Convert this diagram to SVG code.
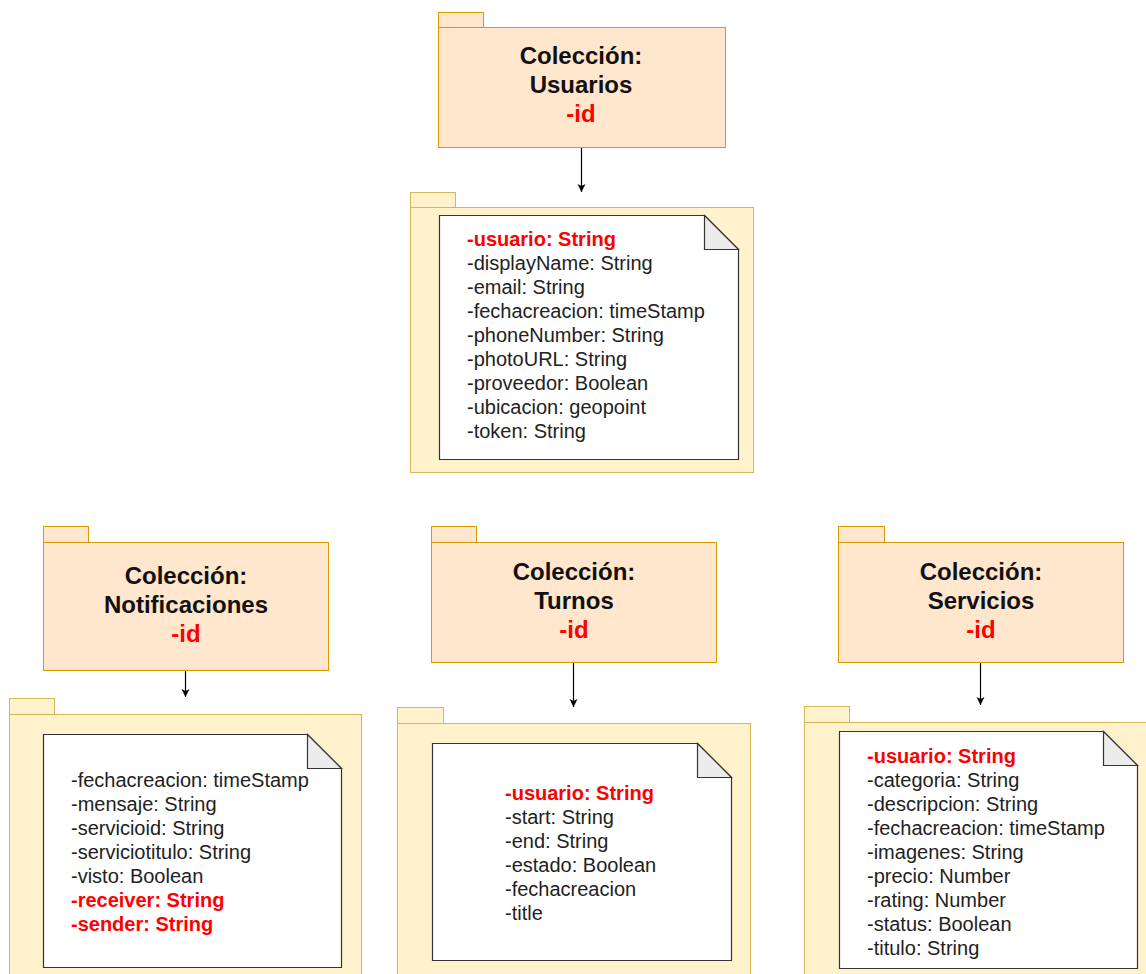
<svg xmlns="http://www.w3.org/2000/svg" width="1146" height="974" viewBox="0 0 1146 974">
<defs>
<marker id="arr" markerWidth="10" markerHeight="10" refX="8" refY="5" orient="auto" markerUnits="userSpaceOnUse">
<path d="M0,1 L8,5 L0,9 L2,5 Z" fill="#000"/>
</marker>
<style>
.pkgA{fill:#ffe6cc;stroke:#d79b00;stroke-width:1}
.pkgB{fill:#fff2cc;stroke:#d6b656;stroke-width:1}
.note{fill:#fff;stroke:#333;stroke-width:1.2}
.fold{fill:#ececec;stroke:#333;stroke-width:1.2}
.title{font-family:"Liberation Sans",Arial,sans-serif;font-size:24px;font-weight:bold;fill:#111;text-anchor:middle}
.idt{fill:#ff0000}
.attr{font-family:"Liberation Sans",Arial,sans-serif;font-size:20px;fill:#222}
.key{fill:#ff0000;font-weight:bold}
.conn{stroke:#000;stroke-width:1.2;fill:none}
</style>
</defs>
<rect width="1146" height="974" fill="#fff"/>

<g id="usuarios">
<rect class="pkgA" x="438.5" y="12.5" width="45" height="15"/>
<rect class="pkgA" x="438.5" y="27.5" width="287" height="120"/>
<text class="title" x="581" y="64">Colección:</text>
<text class="title" x="581" y="93">Usuarios</text>
<text class="title idt" x="581" y="122">-id</text>
</g>

<g id="usuarios-attrs">
<rect class="pkgB" x="410.5" y="192.5" width="45" height="15"/>
<rect class="pkgB" x="410.5" y="207.5" width="343" height="265"/>
<path class="note" d="M439.5,215.5 H704.5 L738.5,249.5 V459.5 H439.5 Z"/>
<path class="fold" d="M704.5,215.5 V249.5 H738.5 Z"/>
<text class="attr" x="467" y="246">
<tspan class="key" x="467">-usuario: String</tspan>
<tspan x="467" dy="24">-displayName: String</tspan>
<tspan x="467" dy="24">-email: String</tspan>
<tspan x="467" dy="24">-fechacreacion: timeStamp</tspan>
<tspan x="467" dy="24">-phoneNumber: String</tspan>
<tspan x="467" dy="24">-photoURL: String</tspan>
<tspan x="467" dy="24">-proveedor: Boolean</tspan>
<tspan x="467" dy="24">-ubicacion: geopoint</tspan>
<tspan x="467" dy="24">-token: String</tspan>
</text>
</g>

<g id="notificaciones">
<rect class="pkgA" x="43.5" y="526.5" width="45" height="16"/>
<rect class="pkgA" x="43.5" y="542.5" width="285" height="128"/>
<text class="title" x="186" y="584">Colección:</text>
<text class="title" x="186" y="613">Notificaciones</text>
<text class="title idt" x="186" y="642">-id</text>
</g>

<g id="notificaciones-attrs">
<rect class="pkgB" x="9.5" y="698.5" width="45" height="16"/>
<rect class="pkgB" x="9.5" y="714.5" width="352" height="270"/>
<path class="note" d="M43.5,734.5 H307.5 L341.5,768.5 V967.5 H43.5 Z"/>
<path class="fold" d="M307.5,734.5 V768.5 H341.5 Z"/>
<text class="attr" x="71" y="787">
<tspan x="71">-fechacreacion: timeStamp</tspan>
<tspan x="71" dy="24">-mensaje: String</tspan>
<tspan x="71" dy="24">-servicioid: String</tspan>
<tspan x="71" dy="24">-serviciotitulo: String</tspan>
<tspan x="71" dy="24">-visto: Boolean</tspan>
<tspan class="key" x="71" dy="24">-receiver: String</tspan>
<tspan class="key" x="71" dy="24">-sender: String</tspan>
</text>
</g>

<g id="turnos">
<rect class="pkgA" x="431.5" y="526.5" width="45" height="16"/>
<rect class="pkgA" x="431.5" y="542.5" width="285" height="120"/>
<text class="title" x="574" y="580">Colección:</text>
<text class="title" x="574" y="609">Turnos</text>
<text class="title idt" x="574" y="638">-id</text>
</g>

<g id="turnos-attrs">
<rect class="pkgB" x="397.5" y="707.5" width="46" height="16"/>
<rect class="pkgB" x="397.5" y="723.5" width="353" height="262"/>
<path class="note" d="M432.5,743.5 H697.5 L731.5,777.5 V960.5 H432.5 Z"/>
<path class="fold" d="M697.5,743.5 V777.5 H731.5 Z"/>
<text class="attr" x="505" y="800">
<tspan class="key" x="505">-usuario: String</tspan>
<tspan x="505" dy="24">-start: String</tspan>
<tspan x="505" dy="24">-end: String</tspan>
<tspan x="505" dy="24">-estado: Boolean</tspan>
<tspan x="505" dy="24">-fechacreacion</tspan>
<tspan x="505" dy="24">-title</tspan>
</text>
</g>

<g id="servicios">
<rect class="pkgA" x="838.5" y="526.5" width="46" height="16"/>
<rect class="pkgA" x="838.5" y="542.5" width="285" height="120"/>
<text class="title" x="981" y="580">Colección:</text>
<text class="title" x="981" y="609">Servicios</text>
<text class="title idt" x="981" y="638">-id</text>
</g>

<g id="servicios-attrs">
<rect class="pkgB" x="804.5" y="706.5" width="45" height="16"/>
<rect class="pkgB" x="804.5" y="722.5" width="360" height="262"/>
<path class="note" d="M839.5,731.5 H1103.5 L1137.5,765.5 V968.5 H839.5 Z"/>
<path class="fold" d="M1103.5,731.5 V765.5 H1137.5 Z"/>
<text class="attr" x="867" y="763">
<tspan class="key" x="867">-usuario: String</tspan>
<tspan x="867" dy="24">-categoria: String</tspan>
<tspan x="867" dy="24">-descripcion: String</tspan>
<tspan x="867" dy="24">-fechacreacion: timeStamp</tspan>
<tspan x="867" dy="24">-imagenes: String</tspan>
<tspan x="867" dy="24">-precio: Number</tspan>
<tspan x="867" dy="24">-rating: Number</tspan>
<tspan x="867" dy="24">-status: Boolean</tspan>
<tspan x="867" dy="24">-titulo: String</tspan>
</text>
</g>

<g id="connectors">
<line class="conn" x1="581.5" y1="148" x2="581.5" y2="192" marker-end="url(#arr)"/>
<line class="conn" x1="185.5" y1="671" x2="185.5" y2="697" marker-end="url(#arr)"/>
<line class="conn" x1="573.5" y1="663" x2="573.5" y2="707" marker-end="url(#arr)"/>
<line class="conn" x1="980.5" y1="663" x2="980.5" y2="705" marker-end="url(#arr)"/>
</g>
</svg>
